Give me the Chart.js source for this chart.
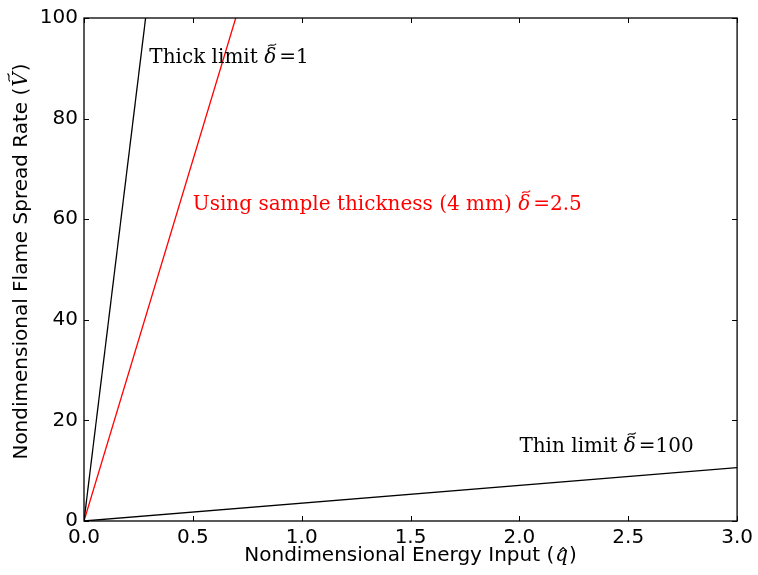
<!DOCTYPE html>
<html>
<head>
<meta charset="utf-8">
<script src="https://cdn.jsdelivr.net/npm/chart.js@4.4.1/dist/chart.umd.min.js"></script>
<style>
  html, body { margin: 0; padding: 0; background: #fff; }
  #wrap { width: 758px; height: 575px; }
</style>
</head>
<body>
<div id="wrap"><canvas id="chart" width="758" height="575"></canvas></div>
<script>
// line end points (all start at the origin)
const thickX = [0, 0.283];
const thickY = [0, 100];
const sampleX = [0, 0.697];
const sampleY = [0, 100];
const thinX = [0, 3.0];
const thinY = [0, 10.6];

const xTicks = [0, 0.5, 1.0, 1.5, 2.0, 2.5, 3.0];
const yTicks = [0, 20, 40, 60, 80, 100];

// text labels: [x, y, plain part, delta value, colour]
const notes = [
    [0.3, 92, "Thick limit ", "1", "#000"],
    [0.5, 62.8, "Using sample thickness (4 mm) ", "2.5", "#f00"],
    [2.0, 14.7, "Thin limit ", "100", "#000"]
];

const xTitle = ["Nondimensional Energy Input (", "q", ")"];
const yTitle = ["Nondimensional Flame Spread Rate (", "V", ")"];

function pts(xs, ys) {
    return xs.map((x, i) => ({ x: x, y: ys[i] }));
}

function tilde(c, cx, ty) {
    c.beginPath();
    c.moveTo(cx - 4, ty + 1);
    c.bezierCurveTo(cx - 2, ty - 2.5, cx + 1, ty + 2.5, cx + 4, ty - 1.5);
    c.stroke();
}

function hat(c, cx, ty) {
    c.beginPath();
    c.moveTo(cx - 3.5, ty + 2);
    c.lineTo(cx, ty - 1.5);
    c.lineTo(cx + 3.5, ty + 2);
    c.stroke();
}

// draws "plain (sym)" with sym in serif italic and an accent on top, centred at 0,0
function mathTitle(c, parts, accent) {
    const sans = "20px 'DejaVu Sans'";
    const ital = "italic 20px 'DejaVu Serif'";
    c.font = sans;
    const w0 = c.measureText(parts[0]).width;
    const w2 = c.measureText(parts[2]).width;
    c.font = ital;
    const w1 = c.measureText(parts[1]).width;
    let x = -(w0 + w1 + 2 + w2) / 2;
    c.textBaseline = "middle";
    c.textAlign = "left";
    c.font = sans;
    c.fillText(parts[0], x, 0);
    x += w0 + 1;
    c.font = ital;
    c.fillText(parts[1], x, 0);
    c.lineWidth = 1.1;
    if (accent === "hat") hat(c, x + w1 / 2 + 1.5, -7);
    else tilde(c, x + w1 / 2 + 2, -13);
    x += w1 + 1;
    c.font = sans;
    c.fillText(parts[2], x, 0);
}

const frame = {
    id: "frame",
    afterDatasetsDraw(chart) {
        const c = chart.ctx;
        const a = chart.chartArea;
        const xs = chart.scales.x, ys = chart.scales.y;
        c.save();
        c.strokeStyle = "#000";
        c.lineWidth = 1;
        c.beginPath();
        xTicks.forEach(v => {
            const px = Math.round(xs.getPixelForValue(v)) + 0.5;
            c.moveTo(px, a.bottom); c.lineTo(px, a.bottom - 5);
            c.moveTo(px, a.top); c.lineTo(px, a.top + 5);
        });
        yTicks.forEach(v => {
            const py = Math.round(ys.getPixelForValue(v)) + 0.5;
            c.moveTo(a.left, py); c.lineTo(a.left + 5, py);
            c.moveTo(a.right, py); c.lineTo(a.right - 5, py);
        });
        c.stroke();
        c.lineWidth = 1.3;
        c.strokeRect(a.left, a.top, a.right - a.left, a.bottom - a.top);

        // annotations
        c.textBaseline = "middle";
        notes.forEach(n => {
            let px = xs.getPixelForValue(n[0]);
            const py = ys.getPixelForValue(n[1]);
            c.fillStyle = n[4];
            c.strokeStyle = n[4];
            c.lineWidth = 1.1;
            c.font = "20px 'DejaVu Serif'";
            c.textAlign = "left";
            c.fillText(n[2], px, py);
            px += c.measureText(n[2]).width;
            c.font = "italic 20px 'DejaVu Serif'";
            c.fillText("\u03b4", px, py);
            const dw = c.measureText("\u03b4").width;
            tilde(c, px + dw / 2 + 2, py - 13);
            px += dw + 3;
            c.font = "20px 'DejaVu Serif'";
            c.fillText("=", px, py);
            px += c.measureText("=").width;
            c.fillText(n[3], px, py);
        });

        // axis titles
        c.fillStyle = "#000";
        c.strokeStyle = "#000";
        c.save();
        c.translate((a.left + a.right) / 2, 556);
        mathTitle(c, xTitle, "hat");
        c.restore();
        c.save();
        c.translate(22, (a.top + a.bottom) / 2 - 8);
        c.rotate(-Math.PI / 2);
        mathTitle(c, yTitle, "tilde");
        c.restore();
        c.restore();
    }
};

const ctx = document.getElementById("chart").getContext("2d");
new Chart(ctx, {
    type: "scatter",
    data: {
        datasets: [
            { data: pts(thickX, thickY), borderColor: "#000" },
            { data: pts(sampleX, sampleY), borderColor: "#f00" },
            { data: pts(thinX, thinY), borderColor: "#000" }
        ].map(d => Object.assign(d, { showLine: true, pointRadius: 0, borderWidth: 1.3, fill: false }))
    },
    options: {
        responsive: false,
        animation: false,
        layout: { padding: { top: 16, right: 19, left: 0, bottom: 0 } },
        plugins: { legend: { display: false }, tooltip: { enabled: false } },
        scales: {
            x: {
                type: "linear",
                min: 0, max: 3,
                afterFit: s => { s.height = 54; },
                afterBuildTicks: s => { s.ticks = xTicks.map(v => ({ value: v })); },
                grid: { display: false, drawTicks: false },
                border: { display: false },
                ticks: {
                    padding: 5,
                    color: "#000",
                    font: { family: "'DejaVu Sans'", size: 20 },
                    callback: v => v.toFixed(1)
                }
            },
            y: {
                type: "linear",
                min: 0, max: 100,
                afterFit: s => { s.width = 84; },
                afterBuildTicks: s => { s.ticks = yTicks.map(v => ({ value: v })); },
                grid: { display: false, drawTicks: false },
                border: { display: false },
                ticks: {
                    padding: 6,
                    color: "#000",
                    font: { family: "'DejaVu Sans'", size: 20 }
                }
            }
        }
    },
    plugins: [frame]
});
</script>
</body>
</html>
